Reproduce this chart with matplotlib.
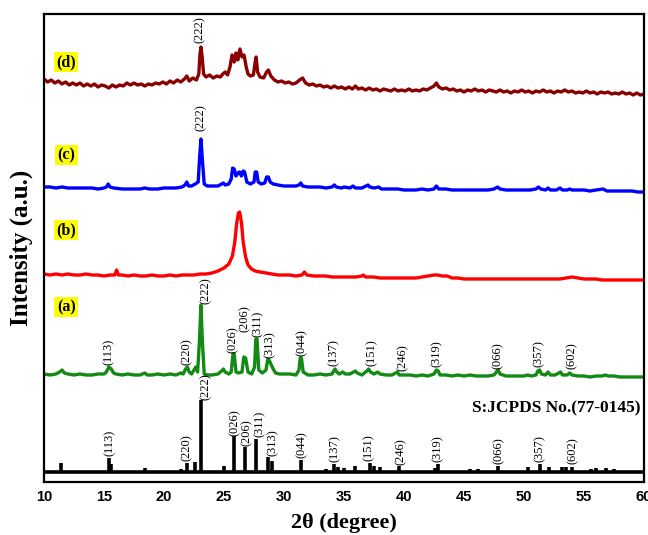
import matplotlib
matplotlib.use("Agg")
import matplotlib.pyplot as plt

# ---------------- data (heights in arbitrary intensity units) ----------------
# JCPDS reference sticks
ref_pos = [11.4, 15.4, 15.6, 18.4, 21.4, 21.9, 22.6, 23.1, 25.0, 25.85, 26.75, 27.7, 28.7, 29.0,
           31.4, 33.5, 34.2, 34.5, 35.0, 35.9, 37.2, 37.5, 38.0, 39.6, 42.6, 42.8, 45.5, 46.2,
           47.8, 50.3, 51.3, 52.1, 53.2, 53.5, 54.0, 55.6, 56.0, 56.8, 57.5]
ref_int = [19, 24, 18, 14, 13, 19, 20, 82, 16, 46, 35, 43, 25, 21,
           22, 13, 18, 15, 14, 16, 19, 16, 15, 16, 14, 18, 13, 13,
           16, 15, 18, 15, 15, 15, 15, 13, 14, 14, 13]
ref_base = 10

a_x = [10.0, 10.5, 11.0, 11.3, 11.5, 11.7, 12.0, 12.5, 13.0, 13.5, 14.0, 14.5, 15.0, 15.2, 15.4, 15.6,
       15.8, 16.0, 16.5, 17.0, 17.5, 18.0, 18.4, 18.6, 19.0, 19.5, 20.0, 20.5, 21.0, 21.4, 21.6, 21.8,
       21.95, 22.1, 22.3, 22.5, 22.65, 22.8, 22.95, 23.08, 23.2, 23.35, 23.6, 24.0, 24.5, 24.8, 24.95,
       25.1, 25.4, 25.6, 25.75, 25.85, 26.0, 26.2, 26.5, 26.65, 26.8, 27.0, 27.3, 27.55, 27.65, 27.75,
       27.9, 28.2, 28.5, 28.65, 28.75, 28.95, 29.1, 29.3, 29.6, 30.0, 30.5, 31.0, 31.25, 31.35, 31.45,
       31.6, 32.0, 32.5, 33.0, 33.5, 34.0, 34.15, 34.25, 34.4, 34.6, 34.9, 35.1, 35.5, 35.8, 35.95,
       36.1, 36.5, 36.9, 37.05, 37.2, 37.5, 37.8, 38.0, 38.5, 39.0, 39.3, 39.45, 39.6, 40.0, 40.5,
       41.0, 41.5, 42.0, 42.5, 42.7, 42.85, 43.0, 43.5, 44.0, 44.5, 45.0, 45.5, 46.0, 46.5, 47.0,
       47.5, 47.7, 47.85, 48.0, 48.5, 49.0, 49.5, 50.0, 50.3, 50.6, 51.0, 51.15, 51.3, 51.45, 51.8,
       52.0, 52.2, 52.6, 52.9, 53.05, 53.2, 53.6, 53.8, 54.0, 54.5, 55.0, 55.5, 56.0, 56.5, 56.8,
       57.0, 57.5, 58.0, 58.5, 59.0, 59.5, 60.0]
a_y = [108, 107, 108, 110, 112, 109, 108, 107, 108, 107, 107, 108, 108, 110, 115, 113,
       109, 108, 107, 108, 107, 107, 109, 107, 107, 108, 107, 108, 107, 109, 108, 113,
       115, 110, 108, 112, 115, 110, 140, 177, 140, 108, 107, 107, 108, 111, 113,
       110, 108, 110, 128, 128, 110, 109, 110, 125, 124, 110, 108, 115, 143, 143,
       112, 109, 112, 123, 122, 117, 113, 109, 108, 108, 108, 107, 112, 124, 124,
       110, 107, 107, 108, 107, 108, 111, 113, 110, 108, 110, 108, 108, 110, 111,
       109, 107, 111, 113, 110, 108, 110, 108, 107, 107, 109, 110, 107, 107, 107,
       106, 107, 106, 108, 112, 111, 107, 107, 106, 107, 106, 107, 106, 106, 106,
       107, 110, 112, 108, 106, 106, 106, 106, 107, 106, 107, 111, 112, 108, 107,
       110, 107, 107, 109, 110, 107, 107, 109, 107, 106, 106, 105, 106, 106, 107,
       106, 106, 105, 105, 105, 105, 105]

b_x = [10.0, 10.5, 11.0, 11.5, 12.0, 12.5, 13.0, 13.5, 14.0, 14.5, 15.0, 15.5, 15.9, 16.05, 16.2,
       16.5, 17.0, 17.5, 18.0, 18.5, 19.0, 19.5, 20.0, 20.5, 21.0, 21.5, 22.0, 22.5, 23.0, 23.5,
       24.0, 24.5, 25.0, 25.4, 25.7, 25.9, 26.05, 26.2, 26.3, 26.45, 26.6, 26.8, 27.0, 27.3, 27.6,
       28.0, 28.5, 29.0, 29.5, 30.0, 30.5, 31.0, 31.5, 31.7, 31.9, 32.5, 33.0, 33.5, 34.0, 34.5,
       35.0, 35.5, 36.0, 36.5, 36.6, 36.8, 37.5, 38.0, 38.5, 39.0, 39.5, 40.0, 40.5, 41.0, 41.5,
       42.0, 42.5, 42.8, 43.2, 43.6, 44.0, 44.5, 45.0, 45.5, 46.0, 46.5, 47.0, 47.5, 48.0, 48.5,
       49.0, 49.5, 50.0, 50.5, 51.0, 51.5, 52.0, 52.5, 53.0, 53.5, 54.0, 54.5, 55.0, 55.5, 56.0,
       56.5, 57.0, 57.5, 58.0, 58.5, 59.0, 59.5, 60.0]
b_y = [208, 207, 208, 207, 208, 207, 207, 208, 207, 207, 206, 207, 207, 212, 207,
       207, 206, 207, 206, 206, 207, 206, 206, 207, 206, 207, 207, 207, 208, 208,
       209, 211, 214, 218, 226, 240, 258, 269, 270, 260, 240, 225, 217, 213, 211,
       210, 209, 208, 207, 207, 207, 206, 207, 210, 207, 206, 206, 206, 205, 205,
       205, 205, 205, 206, 207, 205, 205, 204, 204, 204, 204, 204, 204, 204, 205,
       206, 207, 207, 206, 206, 204, 204, 203, 203, 203, 203, 203, 203, 203, 203,
       203, 203, 203, 203, 203, 203, 203, 203, 203, 204, 205, 204, 203, 203, 203,
       202, 202, 202, 202, 202, 202, 202, 202]

c_x = [10.0, 10.5, 11.0, 11.5, 12.0, 12.5, 13.0, 13.5, 14.0, 14.5, 15.0, 15.2, 15.35, 15.5, 15.8,
       16.5, 17.0, 17.5, 18.0, 18.4, 18.8, 19.5, 20.0, 20.5, 21.0, 21.5, 21.75, 21.9, 22.05, 22.3,
       22.6, 22.85, 22.97, 23.08, 23.2, 23.35, 23.6, 24.0, 24.5, 24.8, 24.95, 25.1, 25.4, 25.6,
       25.72, 25.85, 26.0, 26.15, 26.3, 26.45, 26.6, 26.72, 26.9, 27.2, 27.5, 27.6, 27.72, 27.85,
       28.1, 28.4, 28.55, 28.7, 28.85, 29.1, 29.5, 30.0, 30.5, 31.0, 31.25, 31.4, 31.55, 32.0,
       32.5, 33.0, 33.5, 34.0, 34.2, 34.35, 34.8, 35.0, 35.5, 35.75, 35.95, 36.5, 37.0, 37.15,
       37.5, 37.9, 38.1, 38.5, 39.0, 39.5, 40.0, 40.5, 41.0, 41.5, 42.0, 42.5, 42.7, 42.9, 43.5,
       44.0, 44.5, 45.0, 45.5, 46.0, 46.5, 47.0, 47.5, 47.8, 48.0, 48.5, 49.0, 49.5, 50.0, 50.5,
       51.0, 51.2, 51.4, 51.8, 52.0, 52.2, 52.7, 53.0, 53.2, 53.6, 53.8, 54.0, 54.5, 55.0, 55.5,
       56.0, 56.6, 56.9, 57.5, 58.0, 58.5, 59.0, 59.5, 60.0]
c_y = [295, 295, 294, 295, 294, 294, 294, 294, 294, 293, 294, 295, 298, 295, 294,
       293, 293, 293, 293, 294, 293, 293, 294, 294, 294, 295, 297, 300, 296, 296,
       298, 300, 325, 343, 322, 298, 296, 296, 296, 298, 299, 297, 298, 303,
       314, 313, 306, 309, 310, 306, 311, 310, 300, 298, 300, 310, 310, 300,
       298, 299, 305, 305, 300, 298, 297, 296, 296, 296, 297, 299, 296, 295,
       295, 295, 294, 295, 297, 295, 294, 295, 294, 296, 294, 294, 297, 295,
       294, 295, 293, 293, 293, 293, 292, 292, 292, 293, 292, 293, 296, 293, 293,
       292, 292, 292, 292, 292, 292, 292, 293, 295, 293, 292, 292, 292, 292, 292,
       293, 295, 293, 292, 294, 292, 292, 294, 292, 292, 293, 292, 292, 292, 291,
       292, 293, 291, 291, 291, 291, 291, 290, 290]

d_x = [10.0, 10.3, 10.6, 10.9, 11.2, 11.5, 11.8, 12.1, 12.4, 12.7, 13.0, 13.3, 13.6, 13.9, 14.2,
       14.5, 14.8, 15.1, 15.4, 15.7, 16.0, 16.3, 16.6, 16.9, 17.2, 17.5, 17.8, 18.1, 18.4, 18.7,
       19.0, 19.3, 19.6, 19.9, 20.2, 20.5, 20.8, 21.1, 21.4, 21.7, 21.9, 22.1, 22.4, 22.7, 22.9,
       23.0, 23.08, 23.18, 23.3, 23.5, 23.8, 24.1, 24.4, 24.7, 24.9, 25.1, 25.3, 25.5, 25.67, 25.85,
       26.0, 26.15, 26.33, 26.5, 26.67, 26.85, 27.0, 27.2, 27.45, 27.6, 27.68, 27.8, 28.0, 28.3,
       28.55, 28.7, 28.9, 29.2, 29.5, 29.8, 30.1, 30.4, 30.7, 31.0, 31.3, 31.55, 31.8, 32.1, 32.4,
       32.7, 33.0, 33.3, 33.6, 33.9, 34.2, 34.5, 34.8, 35.1, 35.4, 35.7, 35.95, 36.2, 36.5, 36.8,
       37.1, 37.4, 37.7, 38.0, 38.3, 38.6, 38.9, 39.2, 39.5, 39.8, 40.1, 40.4, 40.7, 41.0, 41.3,
       41.6, 41.9, 42.2, 42.5, 42.7, 42.9, 43.2, 43.5, 43.8, 44.1, 44.4, 44.7, 45.0, 45.3, 45.6,
       45.9, 46.2, 46.5, 46.8, 47.1, 47.4, 47.7, 48.0, 48.3, 48.6, 48.9, 49.2, 49.5, 49.8, 50.1,
       50.4, 50.7, 51.0, 51.3, 51.6, 51.9, 52.2, 52.5, 52.8, 53.1, 53.4, 53.7, 54.0, 54.3, 54.6,
       54.9, 55.2, 55.5, 55.8, 56.1, 56.4, 56.7, 57.0, 57.3, 57.6, 57.9, 58.2, 58.5, 58.8, 59.1,
       59.4, 59.7, 60.0]
d_y = [403, 400, 402, 399, 401, 398, 400, 397, 399, 397, 399, 396, 398, 396, 398,
       395, 397, 396, 394, 397, 395, 397, 396, 399, 397, 399, 397, 398, 396, 398,
       397, 399, 398, 400, 398, 401, 399, 402, 400, 403, 406, 401, 404, 402, 408,
       428, 435, 425, 408, 405, 407, 404, 406, 405, 408, 410, 407, 415, 427, 420,
       429, 422, 433, 425, 427, 415, 408, 406, 407, 420, 425, 410, 405, 404,
       410, 412, 406, 402, 400, 401, 399, 400, 398, 399, 402, 404, 399, 397, 398,
       396, 397, 395, 396, 394, 396, 394, 395, 393, 395, 393, 396, 393, 394, 392,
       394, 392, 393, 391, 393, 392, 391, 393, 391, 392, 391, 393, 391, 392, 391,
       393, 392, 394, 396, 399, 395, 393, 394, 392, 393, 391, 392, 390, 392, 391,
       393, 391, 392, 390, 392, 391, 390, 392, 390, 391, 389, 391, 390, 392, 390,
       391, 389, 391, 390, 392, 390, 391, 389, 391, 390, 392, 390, 391, 389, 390,
       389, 391, 389, 390, 388, 390, 389, 390, 388, 389, 388, 390, 388, 389, 387,
       389, 387, 388]

# peak labels: (text, x, bottom height)
a_labels = [("(113)", 15.4, 117), ("(220)", 21.9, 117), ("(222)", 23.5, 178), ("(026)", 25.75, 129),
            ("(206)", 26.75, 150), ("(311)", 27.8, 145), ("(313)", 28.8, 124), ("(044)", 31.5, 126),
            ("(137)", 34.15, 116), ("(151)", 37.3, 116), ("(246)", 39.9, 111), ("(319)", 42.75, 115),
            ("(066)", 47.8, 113), ("(357)", 51.2, 115), ("(602)", 54.0, 113)]
ref_labels = [("(113)", 15.5, 26), ("(220)", 21.9, 21), ("(222)", 23.45, 82), ("(026)", 25.9, 46),
              ("(206)", 26.9, 36), ("(311)", 28.0, 45), ("(313)", 29.1, 26), ("(044)", 31.5, 24),
              ("(137)", 34.25, 20), ("(151)", 37.1, 21), ("(246)", 39.7, 17), ("(319)", 42.8, 20),
              ("(066)", 47.9, 18), ("(357)", 51.35, 20), ("(602)", 54.1, 18)]
top_labels = [("(222)", 23.0, 439), ("(222)", 23.1, 351)]

panel_names = ["(a)", "(b)", "(c)", "(d)"]
panel_y = [175, 252, 327, 420]

# ---------------- plot ----------------
fig = plt.figure(figsize=(6.48, 5.35), dpi=100)
ax = fig.add_axes([44 / 648, 53 / 535, 600 / 648, 468 / 535])

lw = 2.4
ax.plot(d_x, d_y, color="#8b0000", lw=lw)
ax.plot(c_x, c_y, color="#0000ff", lw=lw)
ax.plot(b_x, b_y, color="#ff0000", lw=lw)
ax.plot(a_x, a_y, color="#138a13", lw=lw)
ax.vlines(ref_pos, ref_base, ref_int, color="black", lw=2.6)
ax.plot([10, 60], [ref_base, ref_base], color="black", lw=2.6)

lab_font = dict(family=["Liberation Serif", "DejaVu Serif"], fontsize=9, rotation=90,
                ha="center", va="bottom", color="black")
for t, x, h in a_labels + ref_labels + top_labels:
    ax.text(x, h, t, **lab_font)

for name, y in zip(panel_names, panel_y):
    ax.text(11.85, y, name, family=["Liberation Serif"], fontsize=11.5, fontweight="bold",
            ha="center", va="center",
            bbox=dict(boxstyle="square,pad=0.15", facecolor="#ffff00", edgecolor="none"))

ax.text(59.7, 74, "S:JCPDS No.(77-0145)", family=["Liberation Serif"], fontsize=12.5,
        fontweight="bold", ha="right", va="center")

ax.set_xlim(10, 60)
ax.set_ylim(0, 468)
ax.set_xticks(range(10, 61, 5))
ax.set_yticks([])
ax.tick_params(axis="x", length=0, pad=6)
for lbl in ax.get_xticklabels():
    lbl.set_family(["Liberation Sans"])
    lbl.set_fontweight("bold")
    lbl.set_fontsize(10.5)
for s in ax.spines.values():
    s.set_linewidth(1.6)

ax.set_xlabel("2θ (degree)", family=["Liberation Serif", "DejaVu Serif"], fontsize=16,
              fontweight="bold", labelpad=6)
ax.set_ylabel("Intensity (a.u.)", family=["Liberation Serif"], fontsize=18,
              fontweight="bold", labelpad=8)

fig.savefig("out.png", dpi=100)
